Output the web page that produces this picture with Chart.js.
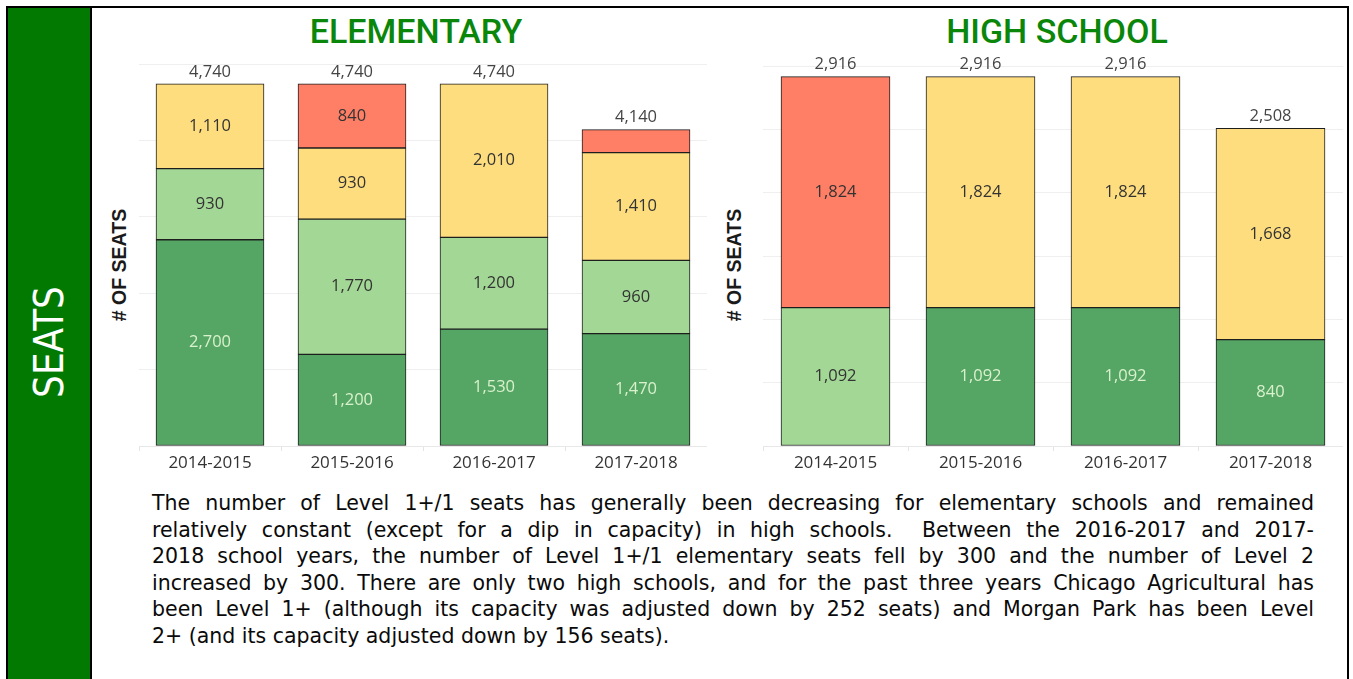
<!DOCTYPE html>
<html lang="en">
<head>
  <meta charset="UTF-8">
  <title>Seats - Elementary and High School</title>
  <script src="https://cdn.jsdelivr.net/npm/chart.js"></script>
  <style>
    html, body {
      margin: 0;
      padding: 0;
      background: #ffffff;
      overflow: hidden;
    }
    body {
      width: 1353px;
      height: 679px;
      position: relative;
    }
    .frame {
      position: absolute;
      left: 6px;
      top: 6px;
      width: 1339px;
      height: 700px;
      border: 2px solid #000;
    }
    .band {
      position: absolute;
      left: 8px;
      top: 8px;
      width: 82px;
      height: 700px;
      background: #027a02;
      border-right: 2px solid #000;
    }
    .band span {
      position: absolute;
      left: 50%;
      top: 334px;
      transform: translate(-50%, -50%) rotate(-90deg);
      color: #ffffff;
      font-family: "DejaVu Sans Condensed", sans-serif;
      font-size: 40px;
      white-space: nowrap;
    }
    .title {
      position: absolute;
      top: 11px;
      transform: translateX(-50%);
      color: #0a870a;
      font-family: Roboto, sans-serif;
      font-weight: 500;
      font-size: 34px;
      white-space: nowrap;
    }
    .ytitle {
      position: absolute;
      top: 265px;
      transform: translate(-50%, -50%) rotate(-90deg);
      color: #1a1a1a;
      font-family: "Liberation Sans", Arial, sans-serif;
      font-weight: bold;
      font-size: 19.5px;
      white-space: nowrap;
    }
    .chart-box { position: absolute; }
    .note {
      position: absolute;
      left: 152px;
      top: 490px;
      width: 1162px;
      font-family: "DejaVu Sans", sans-serif;
      font-size: 20.5px;
      line-height: 26.5px;
      color: #0a0a0a;
    }
    .note div { text-align: justify; text-align-last: justify; white-space: nowrap; }
    .note div.last { text-align-last: left; }
  </style>
</head>
<body>
  <div class="frame"></div>
  <div class="band"><span>SEATS</span></div>

  <div class="title" style="left:416px;">ELEMENTARY</div>
  <div class="title" style="left:1057px;">HIGH SCHOOL</div>

  <div class="ytitle" style="left:119px;"># OF SEATS</div>
  <div class="ytitle" style="left:734px;"># OF SEATS</div>

  <div class="chart-box" style="left:139px; top:44px;"><canvas id="elemChart" width="568" height="438"></canvas></div>
  <div class="chart-box" style="left:763px; top:46px;"><canvas id="hsChart" width="580" height="436"></canvas></div>

  <div class="note">
    <div>The number of Level 1+/1 seats has generally been decreasing for elementary schools and remained</div>
    <div>relatively constant (except for a dip in capacity) in high schools.&nbsp; Between the 2016-2017 and 2017-</div>
    <div>2018 school years, the number of Level 1+/1 elementary seats fell by 300 and the number of Level 2</div>
    <div>increased by 300. There are only two high schools, and for the past three years Chicago Agricultural has</div>
    <div>been Level 1+ (although its capacity was adjusted down by 252 seats) and Morgan Park has been Level</div>
    <div class="last">2+ (and its capacity adjusted down by 156 seats).</div>
  </div>

  <script>
    // school years on the x axis
    const years = ['2014-2015', '2015-2016', '2016-2017', '2017-2018'];

    // elementary seats by rating level (bottom to top of each stack)
    const elemLevel1Plus = [2700, 1200, 1530, 1470];
    const elemLevel1     = [930, 1770, 1200, 960];
    const elemLevel2Plus = [1110, 930, 2010, 1410];
    const elemLevel2     = [0, 840, 0, 300];

    // high school seats by rating level
    const hsLevel1Plus = [0, 1092, 1092, 840];
    const hsLevel1     = [1092, 0, 0, 0];
    const hsLevel2Plus = [0, 1824, 1824, 1668];
    const hsLevel2     = [1824, 0, 0, 0];

    // y axis ranges (no tick labels are shown, only gridlines)
    const elemMax = 5000, elemStep = 1000;
    const hsMax = 3000, hsStep = 500;

    const levelNames = ['Level 1+', 'Level 1', 'Level 2+', 'Level 2'];
    const levelColors = ['#55a565', '#a3d795', '#fedd7f', '#fe7f66'];
    const labelColors = ['#d9f1cc', '#333333', '#333333', '#333333'];

    const fontFamily = '"Open Sans", sans-serif';

    function fmt(n) {
      return String(n).replace(/\B(?=(\d{3})+(?!\d))/g, ',');
    }

    // segment values in the middle of each bar piece, totals above each stack
    const valueLabels = {
      id: 'valueLabels',
      afterDatasetsDraw(chart) {
        const ctx = chart.ctx;
        ctx.save();
        ctx.font = '16.5px ' + fontFamily;
        ctx.textAlign = 'center';
        ctx.textBaseline = 'middle';
        chart.data.datasets.forEach((ds, i) => {
          const meta = chart.getDatasetMeta(i);
          meta.data.forEach((bar, j) => {
            const v = ds.data[j];
            if (!v) return;
            if (Math.abs(bar.base - bar.y) < 28) return;
            ctx.fillStyle = ds.labelColor;
            ctx.fillText(fmt(v), bar.x, (bar.y + bar.base) / 2);
          });
        });
        const yScale = chart.scales.y;
        const xScale = chart.scales.x;
        chart.data.labels.forEach((lab, j) => {
          const total = chart.data.datasets.reduce((s, ds) => s + (ds.data[j] || 0), 0);
          ctx.fillStyle = '#444444';
          ctx.fillText(fmt(total), xScale.getPixelForValue(j), yScale.getPixelForValue(total) - 12);
        });
        ctx.restore();
      }
    };

    function makeDatasets(series, thickness) {
      return series.map((vals, i) => ({
        label: levelNames[i],
        data: vals.map(v => v || null),
        backgroundColor: levelColors[i],
        borderColor: '#1e1e1e',
        borderWidth: 1,
        borderSkipped: false,
        labelColor: labelColors[i],
        barThickness: thickness
      }));
    }

    function makeOptions(max, step) {
      return {
        responsive: false,
        animation: false,
        layout: { padding: { top: 20, left: 0, right: 0, bottom: 0 } },
        plugins: { legend: { display: false }, tooltip: { enabled: false } },
        scales: {
          x: {
            stacked: true,
            grid: { offset: true, drawOnChartArea: false, tickLength: 5, color: '#e4e4e4' },
            border: { color: '#e8e8e8' },
            ticks: { color: '#333333', font: { size: 17, family: fontFamily }, padding: 2 },
            afterFit: s => { s.height = 36; }
          },
          y: {
            stacked: true,
            min: 0,
            max: max,
            ticks: { display: false, stepSize: step },
            grid: { color: '#efefef', drawTicks: false },
            border: { display: false },
            afterFit: s => { s.width = 0; }
          }
        }
      };
    }

    new Chart(document.getElementById('elemChart'), {
      type: 'bar',
      data: {
        labels: years,
        datasets: makeDatasets([elemLevel1Plus, elemLevel1, elemLevel2Plus, elemLevel2], 108)
      },
      options: makeOptions(elemMax, elemStep),
      plugins: [valueLabels]
    });

    new Chart(document.getElementById('hsChart'), {
      type: 'bar',
      data: {
        labels: years,
        datasets: makeDatasets([hsLevel1Plus, hsLevel1, hsLevel2Plus, hsLevel2], 109)
      },
      options: makeOptions(hsMax, hsStep),
      plugins: [valueLabels]
    });
  </script>
</body>
</html>
